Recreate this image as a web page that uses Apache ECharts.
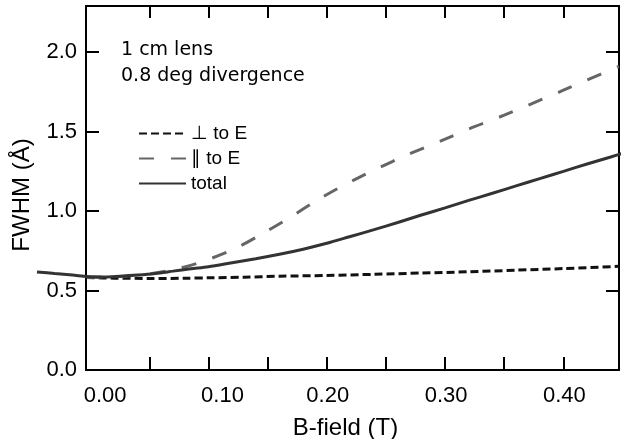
<!DOCTYPE html>
<html>
<head>
<meta charset="utf-8">
<script src="https://cdn.jsdelivr.net/npm/echarts@6/dist/echarts.min.js"></script>
<style>html,body{margin:0;padding:0;background:#fff;}#c{width:624px;height:439px;}</style>
</head>
<body>
<div id="c"></div>
<script>
// ---- data ----
var xLabelValues = [0, 0.1, 0.2, 0.3, 0.4];
var xTickValues = [0.05, 0.1, 0.15, 0.2, 0.25, 0.3, 0.35, 0.4];
var yLabelValues = [0, 0.5, 1.0, 1.5, 2.0];
var yTickValues = [0.5, 1.0, 1.5, 2.0];

var bTotal = [-0.045,-0.03,-0.015,-0.003,0.01,0.025,0.04,0.055,0.07,0.085,0.1,0.12,0.14,0.16,0.18,0.2,0.22,0.24,0.26,0.28,0.3,0.32,0.34,0.36,0.38,0.4,0.42,0.44,0.45];
var total  = [0.617,0.607,0.597,0.588,0.585,0.59,0.597,0.607,0.622,0.637,0.65,0.675,0.7,0.728,0.76,0.797,0.84,0.883,0.928,0.975,1.02,1.067,1.112,1.158,1.204,1.25,1.296,1.34,1.363];

var bPerp = [-0.003,0.02,0.05,0.08,0.1,0.13,0.16,0.2,0.24,0.28,0.32,0.36,0.4,0.447];
var perp  = [0.582,0.578,0.576,0.577,0.58,0.584,0.59,0.595,0.602,0.61,0.618,0.628,0.638,0.652];

var bPar = [-0.003,0.03,0.05,0.07,0.09,0.12,0.145,0.17,0.19,0.21,0.24,0.27,0.3,0.32,0.35,0.37,0.4,0.42,0.447];
var par  = [0.582,0.59,0.605,0.63,0.67,0.755,0.855,0.965,1.06,1.145,1.258,1.36,1.452,1.516,1.603,1.665,1.76,1.825,1.91];

var seriesNames = ['\u22A5 to E', '\u2225 to E', 'total'];
var xName = 'B-field (T)';
var yName = 'FWHM (\u00C5)';
var notes = ['1 cm lens', '0.8 deg divergence'];

function zip(a, b) { return a.map(function (v, i) { return [v, b[i]]; }); }

var X_MIN = -0.0035, X_MAX = 0.447, Y_MIN = 0, Y_MAX = 2.29, X_LEFT_MIN = -0.045;
var totalLeft = zip(bTotal, total).filter(function (p) { return p[0] <= X_MIN + 0.001; });
var totalMain = zip(bTotal, total).filter(function (p) { return p[0] >= X_MIN; });

var FONT = '"Liberation Sans", Arial, Helvetica, sans-serif';
var axisLineStyle = { color: '#000', width: 2 };
// the printed labels of 0.00 and 0.10 sit a little right of their ticks in the original
var xLabelRich = {
  a: { fontFamily: FONT, fontSize: 22, color: '#000', padding: [0, 0, 0, 30] },
  b: { fontFamily: FONT, fontSize: 22, color: '#000', padding: [0, 0, 0, 28] },
  n: { fontFamily: FONT, fontSize: 22, color: '#000', padding: [0, 0, 0, 2] }
};

var chart = echarts.init(document.getElementById('c'), null, { renderer: 'canvas' });
chart.setOption({
  animation: false,
  backgroundColor: '#fff',
  grid: [
    { left: 86, right: 5, top: 6, bottom: 69, containLabel: false, outerBoundsMode: 'none' },
    { left: 37, width: 49, top: 6, bottom: 69, containLabel: false, outerBoundsMode: 'none' }
  ],
  xAxis: [{
    type: 'value', gridIndex: 0, min: X_MIN, max: X_MAX, position: 'bottom',
    name: xName, nameLocation: 'middle', nameGap: 46,
    nameTextStyle: { fontFamily: FONT, fontSize: 24, color: '#000', padding: [0, 14, 0, 0] },
    axisLine: { show: true, onZero: false, lineStyle: axisLineStyle },
    axisTick: { show: true, inside: true, length: 13, customValues: xTickValues, lineStyle: axisLineStyle },
    axisLabel: { show: true, customValues: xLabelValues, margin: 15, fontFamily: FONT, fontSize: 22, color: '#000',
      rich: xLabelRich,
      formatter: function (v) {
        var s = v.toFixed(2);
        var k = Math.abs(v) < 1e-9 ? 'a' : (Math.abs(v - 0.1) < 1e-9 ? 'b' : 'n');
        return '{' + k + '|' + s + '}';
      } },
    splitLine: { show: false }
  }, {
    type: 'value', gridIndex: 0, min: X_MIN, max: X_MAX, position: 'top',
    axisLine: { show: true, onZero: false, lineStyle: axisLineStyle },
    axisTick: { show: true, inside: true, length: 12, customValues: xTickValues, lineStyle: axisLineStyle },
    axisLabel: { show: false },
    splitLine: { show: false }
  }, {
    type: 'value', gridIndex: 1, min: X_LEFT_MIN, max: X_MIN, show: false
  }],
  yAxis: [{
    type: 'value', gridIndex: 0, min: Y_MIN, max: Y_MAX, position: 'left',
    name: yName, nameLocation: 'middle', nameGap: 52, nameRotate: 90,
    nameTextStyle: { fontFamily: FONT, fontSize: 24, color: '#000', padding: [0, 14, 0, 0] },
    axisLine: { show: true, onZero: false, lineStyle: axisLineStyle },
    axisTick: { show: true, inside: true, length: 13, customValues: yTickValues, lineStyle: axisLineStyle },
    axisLabel: { show: true, customValues: yLabelValues, margin: 9, fontFamily: FONT, fontSize: 22, color: '#000',
      formatter: function (v) { return v.toFixed(1); } },
    splitLine: { show: false }
  }, {
    type: 'value', gridIndex: 0, min: Y_MIN, max: Y_MAX, position: 'right',
    axisLine: { show: true, onZero: false, lineStyle: axisLineStyle },
    axisTick: { show: true, inside: true, length: 13, customValues: yTickValues, lineStyle: axisLineStyle },
    axisLabel: { show: false },
    splitLine: { show: false }
  }, {
    type: 'value', gridIndex: 1, min: Y_MIN, max: Y_MAX, show: false
  }],
  legend: {
    show: true, orient: 'vertical', left: 133, top: 119, itemWidth: 47, itemHeight: 14, itemGap: 6,
    itemStyle: { opacity: 0 },
    textStyle: { fontFamily: FONT, fontSize: 19, color: '#000' },
    data: seriesNames
  },
  graphic: [
    { type: 'text', left: 121, top: 41, style: { text: notes[0], font: '19px "DejaVu Sans", sans-serif', fill: '#000' } },
    { type: 'text', left: 121, top: 67, style: { text: notes[1], font: '19px "DejaVu Sans", sans-serif', fill: '#000' } }
  ],
  series: [{
    name: seriesNames[0], type: 'line', data: zip(bPerp, perp), showSymbol: false, symbol: 'none', smooth: 0.3,
    xAxisIndex: 0, yAxisIndex: 0,
    lineStyle: { color: '#111', width: 3, type: [8, 4] }, itemStyle: { color: '#111' }
  }, {
    name: seriesNames[1], type: 'line', data: zip(bPar, par), showSymbol: false, symbol: 'none', smooth: 0.3,
    xAxisIndex: 0, yAxisIndex: 0,
    lineStyle: { color: '#666', width: 3, type: [15, 17] }, itemStyle: { color: '#666' }
  }, {
    name: seriesNames[2], type: 'line', data: totalMain, showSymbol: false, symbol: 'none', smooth: 0.3,
    xAxisIndex: 0, yAxisIndex: 0,
    lineStyle: { color: '#333', width: 3 }, itemStyle: { color: '#333' }
  }, {
    name: seriesNames[2], type: 'line', data: totalLeft, showSymbol: false, symbol: 'none', smooth: 0.3,
    xAxisIndex: 2, yAxisIndex: 2,
    lineStyle: { color: '#333', width: 3 }, itemStyle: { color: '#333' }
  }]
});
</script>
</body>
</html>
